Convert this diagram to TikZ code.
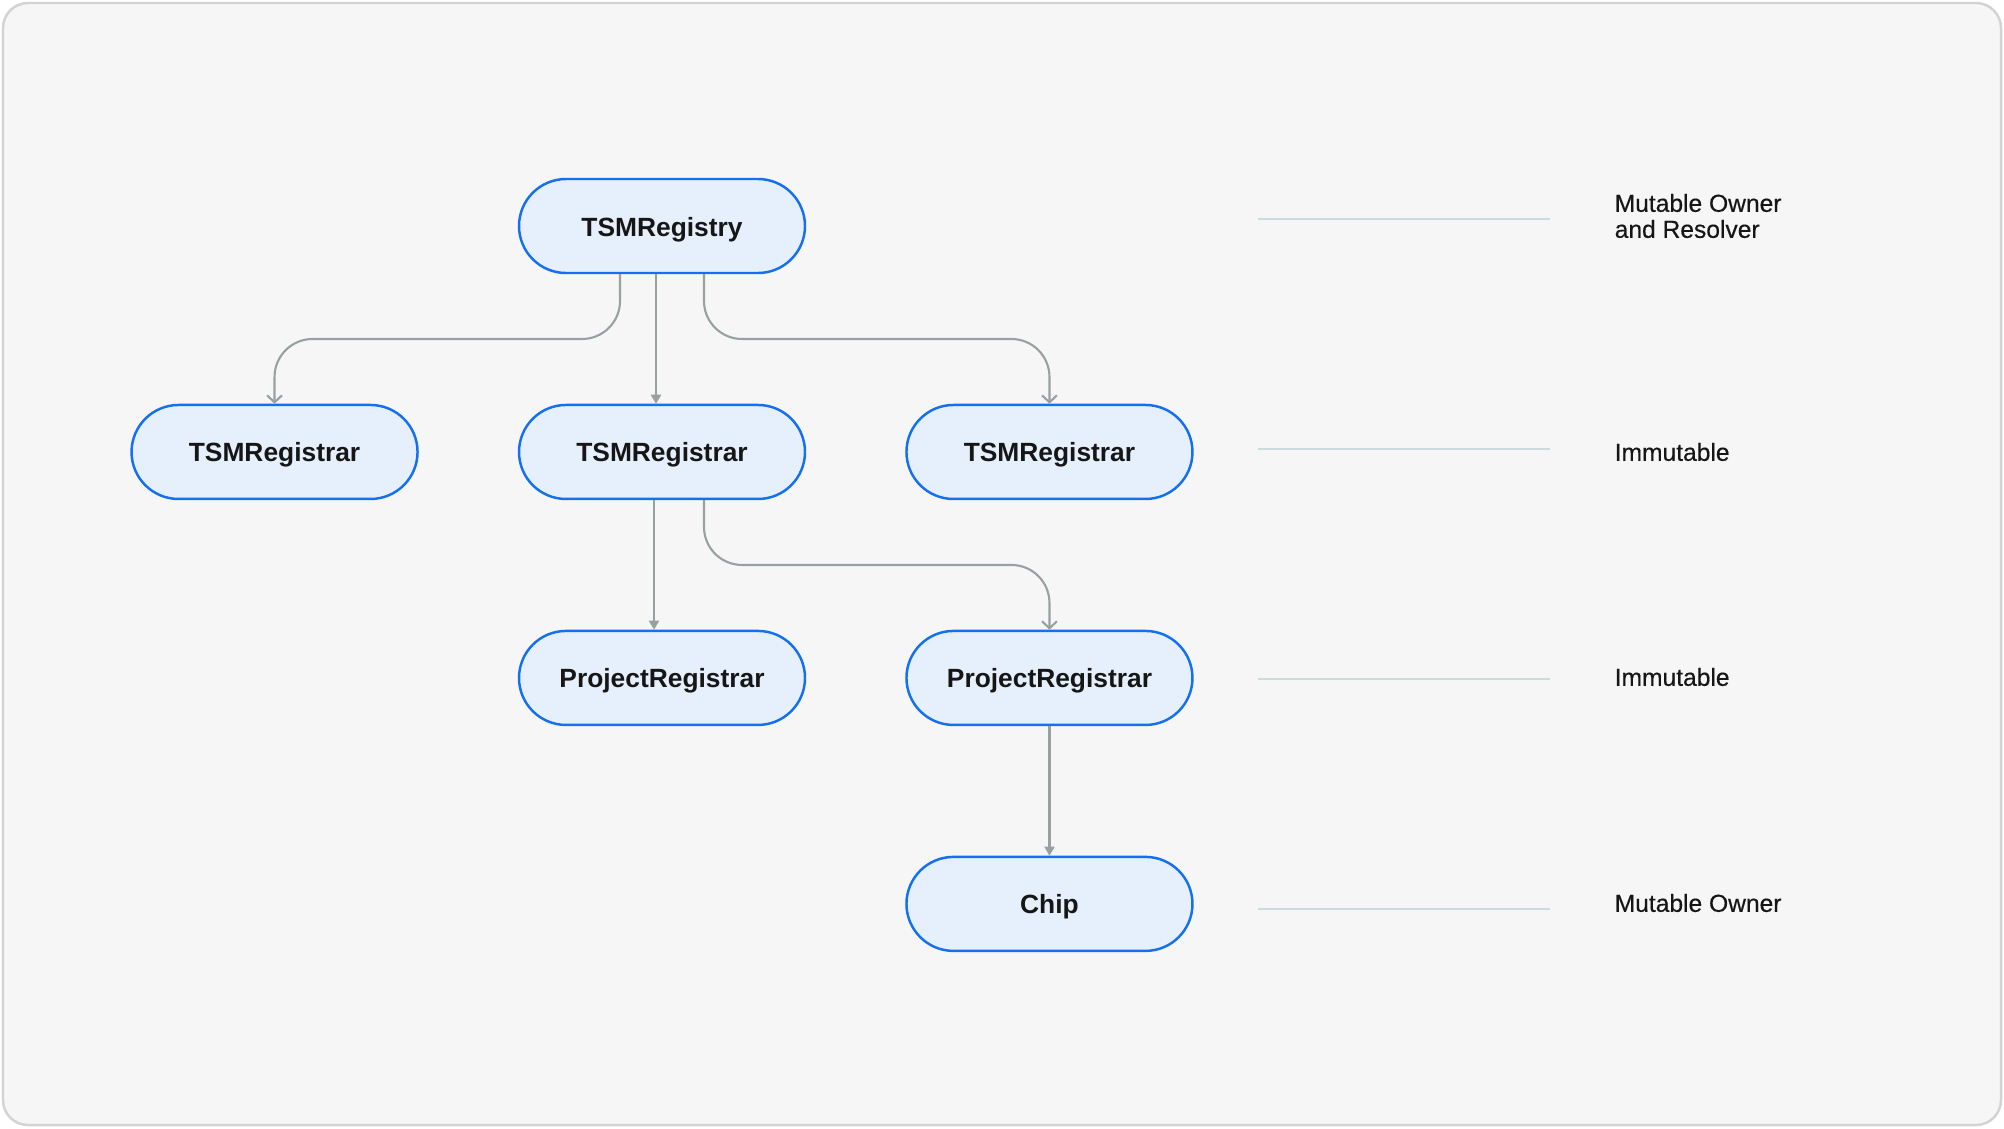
\documentclass[tikz,border=0pt]{standalone}
\usepackage{fontspec}
\setmainfont{Liberation Sans}
\newfontfamily\rolefont{Liberation Sans}[FakeBold=0.35]
\usetikzlibrary{arrows.meta, positioning, calc}
\definecolor{canvas}{HTML}{F6F6F6}
\definecolor{frame}{HTML}{D3D3D3}
\definecolor{boxfill}{HTML}{E6F0FD}
\definecolor{boxline}{HTML}{1470F0}
\definecolor{wire}{HTML}{97A1A1}
\definecolor{guideline}{HTML}{CCDCDD}
\definecolor{ink}{HTML}{161616}
\tikzstyle{entity} = [rectangle, rounded corners=0.47cm, minimum width=2.86cm, minimum height=0.94cm, text height=0.3cm, text depth=0.1cm, text centered, draw=boxline, fill=boxfill, line width=0.7pt, text=ink, font=\fontsize{7.5}{9}\selectfont\bfseries]
\tikzstyle{role} = [anchor=west, align=left, inner sep=0pt, text=ink, font=\rolefont\fontsize{7}{7.4}\selectfont]
\tikzstyle{link} = [line width=0.6pt, draw=wire, -{Triangle[width=0.1cm, length=0.09cm]}]
\tikzstyle{elbow} = [line width=0.6pt, draw=wire, rounded corners=0.38cm, -{Straight Barb[width=0.15cm, length=0.07cm]}]
\tikzstyle{guide} = [line width=0.7pt, draw=guideline]

\begin{document}
\begin{tikzpicture}[node distance=1.295cm and 0.99cm]
\useasboundingbox (0,0) rectangle (20.04,-11.28);
\draw [fill=canvas, draw=frame, line width=0.7pt, rounded corners=0.25cm] (0.03,-0.03) rectangle (20.01,-11.25);

\node (registry) [entity] at (6.62,-2.26) {TSMRegistry};

\node (regB) [entity, below=of registry] {TSMRegistrar};
\node (regA) [entity, left=of regB] {TSMRegistrar};
\node (regC) [entity, right=of regB] {TSMRegistrar};

\node (projA) [entity, below=of regB] {ProjectRegistrar};
\node (projB) [entity, below=of regC] {ProjectRegistrar};

\node (chip) [entity, below=of projB] {Chip};

% roles on the right
\node (lblOwner) [role] at (16.14,-2.16) {Mutable Owner\\and Resolver};
\node (lblImmA) [role] at (16.14,-4.52) {Immutable};
\node (lblImmB) [role] at (16.14,-6.77) {Immutable};
\node (lblChip) [role] at (16.14,-9.03) {Mutable Owner};

\coordinate (gA) at (12.58,-2.19);
\coordinate (gAe) at (15.50,-2.19);
\coordinate (gB) at (12.58,-4.49);
\coordinate (gBe) at (15.50,-4.49);
\coordinate (gC) at (12.58,-6.79);
\coordinate (gCe) at (15.50,-6.79);
\coordinate (gD) at (12.58,-9.09);
\coordinate (gDe) at (15.50,-9.09);

\draw [guide] (gA) -- (gAe);
\draw [guide] (gB) -- (gBe);
\draw [guide] (gC) -- (gCe);
\draw [guide] (gD) -- (gDe);

\coordinate (lvlA) at ($(registry.south)!0.5!(regB.north)$);
\coordinate (lvlB) at ($(regB.south)!0.5!(projA.north)$);

\draw [elbow] ([xshift=-0.42cm]registry.south) |- (lvlA -| regA.north) -- (regA.north);
\draw [link] ([xshift=-0.06cm]registry.south) -- ([xshift=-0.06cm]regB.north);
\draw [elbow] ([xshift=0.42cm]registry.south) |- (lvlA -| regC.north) -- (regC.north);

\draw [link] ([xshift=-0.08cm]regB.south) -- ([xshift=-0.08cm]projA.north);
\draw [elbow] ([xshift=0.42cm]regB.south) |- (lvlB -| projB.north) -- (projB.north);

\draw [link] (projB) -- (chip);
\end{tikzpicture}
\end{document}
